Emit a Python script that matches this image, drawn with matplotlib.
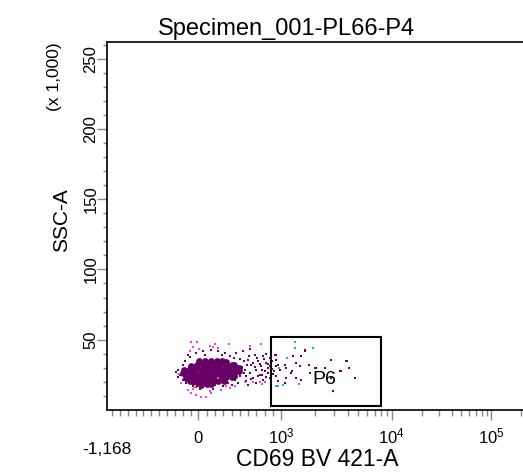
import numpy as np
import matplotlib
matplotlib.use("Agg")
import matplotlib.pyplot as plt

plt.rcParams['font.family'] = ['Liberation Sans', 'DejaVu Sans']
plt.rcParams['mathtext.fontset'] = 'custom'
plt.rcParams['mathtext.rm'] = 'Liberation Sans'

# ---------------- data (CD69 BV 421-A intensity, SSC-A in thousands) -------------
title = "Specimen_001-PL66-P4"
x_label = "CD69 BV 421-A"
y_label = "SSC-A"
y_unit = "(x 1,000)"

x_min, x_max = -1168, 262144
y_min, y_max = 0, 262.144

x_major = [0, 1000, 10000, 100000]
x_major_labels = ["0", r"$\mathregular{10^{3}}$", r"$\mathregular{10^{4}}$", r"$\mathregular{10^{5}}$"]
x_minor = ([-1100, -1000, -900, -800, -700, -600, -500, -400, -300, -200, -100,
            100, 200, 300, 400, 500, 600, 700, 800, 900,
            2000, 3000, 4000, 5000, 6000, 7000, 8000, 9000,
            20000, 30000, 40000, 50000, 60000, 70000, 80000, 90000, 200000])
y_major = [50, 100, 150, 200, 250]
y_minor = [10, 20, 30, 40, 60, 70, 80, 90, 110, 120, 130, 140, 160, 170, 180, 190,
           210, 220, 230, 240, 260]

# dense core of the population
core_x = [10, 80, 150, 220, 290, 330,
          -90, -20, 50, 120, 190, 260, 330, 400, 430,
          -180, -110, -40, 30, 100, 170, 240, 310, 380, 450, 490,
          -190, -120, -50, 20, 90, 160, 230, 300, 370, 440, 490,
          -160, -90, -20, 50, 120, 190, 260, 330, 400, 430,
          -110, -40, 30, 100, 170, 240, 310,
          -40, 30, 100, 150]
core_y = [34.6, 34.9, 35.0, 34.8, 34.6, 34.4,
          31.6, 31.9, 32.0, 31.8, 32.1, 31.9, 31.8, 32.2, 32.0,
          28.7, 28.9, 29.0, 28.8, 29.1, 28.9, 29.0, 28.8, 29.2, 29.6, 30.0,
          26.0, 26.2, 26.1, 25.9, 26.2, 26.1, 26.0, 26.3, 26.5, 27.0, 27.4,
          23.1, 23.3, 23.2, 23.0, 23.3, 23.2, 23.4, 23.3, 23.6, 24.0,
          20.3, 20.4, 20.5, 20.3, 20.6, 20.5, 20.8,
          18.2, 18.0, 18.3, 18.6]

# scattered dark purple events
purple_x = [618, 534, 458, 678, 778, 598, 718, 819, 639, 759, 839, 558, 699, 799, 618,
            739, 498, 658, 437, 578, 778, 477, 699, 859, 883, 835, 763, 678, 582, 546,
            715, 811, 907, 859,
            546, 606, 654, 703, 739, 787, 835, 884, 570, 630, 763, 859, 522, 931, 895, 594, 486,
            -260, -238, -196, -132, -25, 55, 157, 236, 317, 377, 36, 116, 196, 296, 357,
            -69, -153, -175, -111, 76, 281, 425, 498, -200, -264, 16, 172, 401, -289,
            819, 919, 940, 880, 959, 1071, 988, 1110, 1274, 1368, 1518, 1465, 1232, 931,
            959, 1110, 1248, 1626, 1779, 1806, 2004, 2470, 2840, 3499, 3932, 4101, 2840,
            2937, 4618, 1518, 1368, 1071, 3884, 3378, 2076, 1650, 940]
purple_y = [43.2, 41.8, 40.6, 39.4, 38.2, 35.9, 34.6, 33.4, 32.3, 31.1, 29.9, 28.7, 28.7,
            27.5, 26.3, 25.1, 23.9, 22.7, 21.6, 20.4, 21.6, 19.1, 19.1, 31.1, 28.9, 26.1,
            28.2, 30.4, 31.8, 26.1, 23.9, 23.2, 27.5, 36.8,
            34.6, 38.2, 33.2, 36.8, 32.5, 36.1, 32.5, 34.6, 23.9, 21.8, 24.6, 22.5, 30.4,
            31.1, 25.4, 17.5, 28.2,
            28.7, 25.1, 21.6, 39.4, 40.6, 41.8, 43.0, 41.8, 40.6, 38.2, 16.8, 16.8, 18.0,
            16.8, 19.1, 16.8, 19.1, 34.6, 37.5, 38.9, 38.9, 36.8, 36.1, 31.8, 23.2, 14.6,
            14.6, 17.5, 26.8,
            39.9, 39.4, 35.9, 33.4, 32.3, 32.3, 28.7, 29.9, 38.2, 33.4, 38.2, 31.1, 26.3,
            23.9, 20.9, 22.7, 27.5, 43.0, 32.3, 26.3, 29.9, 29.9, 35.9, 28.0, 34.6, 29.9,
            22.7, 13.7, 22.7, 21.6, 22.7, 19.1, 35.1, 28.0, 29.9, 42.3, 39.4]

# outlying magenta events
magenta_x = [-89, -18, -69, 7, 369, 618, 759, 739, 799, -98, -69, 36, 88, 157, 337, 558,
             -247, -217, 277, 658, 176, 136, 236, 196, -111, -132, -25, 136, 377, 437, 771]
magenta_y = [48.4, 48.4, 44.6, 43.7, 46.8, 45.4, 47.0, 19.9, 19.9, 12.0, 15.1, 9.1, 9.6,
             12.0, 16.8, 19.9, 25.9, 19.1, 14.4, 19.9, 44.6, 45.4, 44.1, 46.6, 41.8, 14.4,
             10.9, 13.2, 15.6, 16.8, 18.4]

# blue events inside gate P6
blue_x = [1320, 1320, 1922, 1124, 971, 1444, 959, 1027, 940]
blue_y = [48.4, 44.1, 44.1, 37.0, 29.9, 18.4, 17.1, 17.5, 16.8]

yellow_x, yellow_y = [-47], [16.8]
orange_x, orange_y = [233], [22.5]

# gate P6
gate_name = "P6"
gate_x = [871, 8040]
gate_y = [2.9, 51.6]
gate_label_x, gate_label_y = 2470, 18.4

# ---------------- biexponential-like display scale ----------------
def fwd(x):
    x = np.asarray(x, dtype=float)
    neg = x / 1168.0 * 91.7
    lin = x / 1000.0 * 83.0
    lg = np.log10(np.maximum(x, 1000.0))
    lgp = np.where(lg <= 4, 83.0 + (lg - 3) * 110.3, 193.3 + (lg - 4) * 99.7)
    return np.where(x <= 0, neg, np.where(x <= 1000, lin, lgp))


def inv(y):
    y = np.asarray(y, dtype=float)
    neg = y / 91.7 * 1168.0
    lin = y / 83.0 * 1000.0
    l1 = 10 ** (3 + (np.clip(y, 83.0, 193.3) - 83.0) / 110.3)
    l2 = 10 ** (4 + (np.maximum(y, 193.3) - 193.3) / 99.7)
    return np.where(y <= 0, neg, np.where(y <= 83, lin, np.where(y <= 193.3, l1, l2)))


W, H = 523, 474
fig = plt.figure(figsize=(W / 100, H / 100), dpi=100)
ax_left, ax_bottom_px, ax_top_px = 106.7, 410.0, 41.5
ax_w_px = 426.4
ax = fig.add_axes([ax_left / W, (H - ax_bottom_px) / H, ax_w_px / W, (ax_bottom_px - ax_top_px) / H])
ax.set_xscale('function', functions=(fwd, inv))
ax.set_xlim(x_min, x_max)
ax.set_ylim(y_min, y_max)

dot = 4.5
ax.scatter(core_x, core_y, s=24, c='#660066', marker='o', linewidths=0, zorder=2)
ax.scatter(purple_x, purple_y, s=dot, c='#660066', marker='s', linewidths=0, zorder=3)
ax.scatter(magenta_x, magenta_y, s=dot, c='#ff33ff', marker='s', linewidths=0, zorder=3)
ax.scatter(blue_x, blue_y, s=dot, c='#3399ff', marker='s', linewidths=0, zorder=3)
ax.scatter(yellow_x, yellow_y, s=dot, c='#ffcc00', marker='s', linewidths=0, zorder=3)
ax.scatter(orange_x, orange_y, s=dot, c='#ff6600', marker='s', linewidths=0, zorder=3)

ax.plot([gate_x[0], gate_x[1], gate_x[1], gate_x[0], gate_x[0]],
        [gate_y[0], gate_y[0], gate_y[1], gate_y[1], gate_y[0]],
        color='black', lw=1.5, zorder=4, solid_joinstyle='miter')
ax.text(gate_label_x, gate_label_y, gate_name, ha='center', va='baseline', fontsize=14, zorder=5)

for side in ['left', 'bottom', 'top']:
    ax.spines[side].set_linewidth(1.3)
    ax.spines[side].set_color('#111111')
ax.spines['right'].set_visible(False)

ax.set_xticks(x_major)
ax.set_xticks(x_minor, minor=True)
ax.set_yticks(y_major)
ax.set_yticks(y_minor, minor=True)
ax.tick_params(axis='both', which='both', labelbottom=False, labelleft=False, direction='out', color='#888888')
ax.tick_params(axis='x', which='major', length=7.2, width=1.0)
ax.tick_params(axis='x', which='minor', length=4.3, width=1.0)
ax.tick_params(axis='y', which='major', length=7.2, width=1.0)
ax.tick_params(axis='y', which='minor', length=3.0, width=1.0)

axh = ax_bottom_px - ax_top_px
for v, lab in zip(x_major, x_major_labels):
    ax.text(v, -(443.3 - ax_bottom_px) / axh, lab, transform=ax.get_xaxis_transform(),
            ha='center', va='baseline', fontsize=12)
ax.text(x_min, -(454 - ax_bottom_px) / axh, "-1,168", transform=ax.get_xaxis_transform(),
        ha='center', va='baseline', fontsize=12.5)
for v in y_major:
    ax.text(-(ax_left - 95.5) / ax_w_px, v, str(v), transform=ax.get_yaxis_transform(),
            rotation=90, rotation_mode='anchor', ha='center', va='baseline', fontsize=12)

fig.text(286 / W, 1 - 35.5 / H, title, ha='center', va='baseline', fontsize=17)
fig.text(317 / W, 1 - 466 / H, x_label, ha='center', va='baseline', fontsize=16.5)
fig.text(66.7 / W, 1 - 220 / H, y_label, rotation=90, rotation_mode='anchor',
         ha='center', va='baseline', fontsize=15)
fig.text(59.5 / W, 1 - 77 / H, y_unit, rotation=90, rotation_mode='anchor',
         ha='center', va='baseline', fontsize=12.5)

fig.savefig('out.png', dpi=100)
